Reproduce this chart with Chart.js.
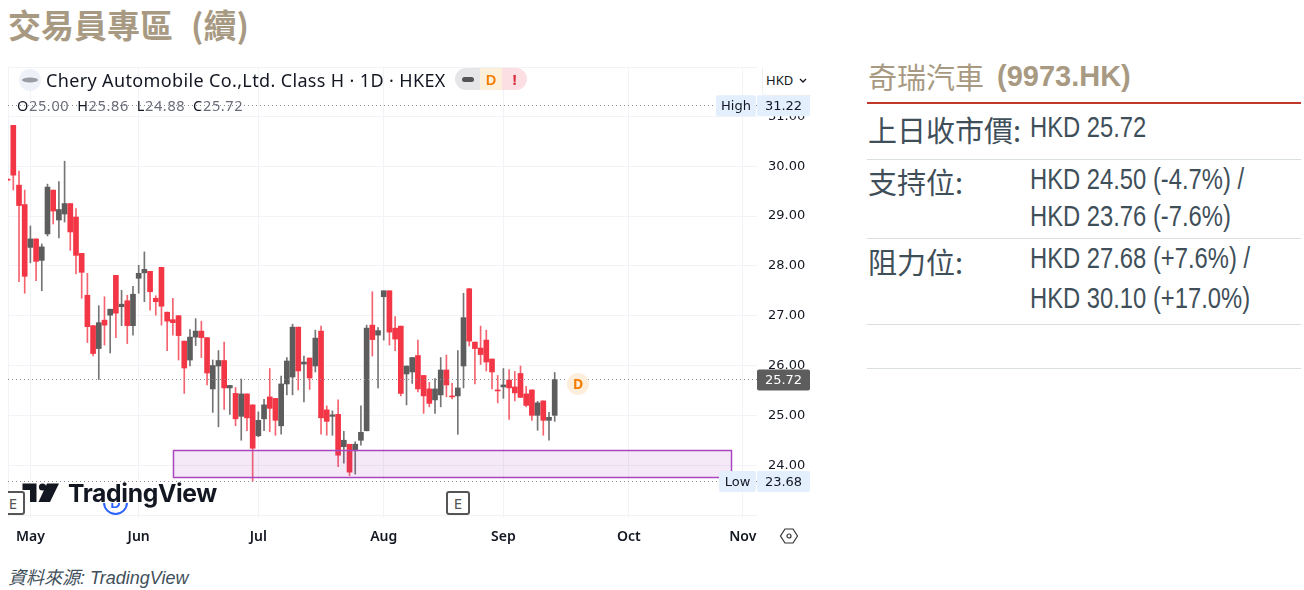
<!DOCTYPE html>
<html>
<head>
<meta charset="utf-8">
<title>奇瑞汽車 (9973.HK)</title>
<script src="https://cdn.jsdelivr.net/npm/chart.js@4"></script>
<style>
	body { margin: 0; background: #fff; width: 1304px; height: 590px; position: relative; overflow: hidden; }
	.abs { position: absolute; white-space: nowrap; }
	.tan { color: #a89a82; }
	.cjk { font-family: "Noto Sans CJK TC", sans-serif; }
	.lab { font-family: "Noto Sans CJK TC", sans-serif; font-size: 29px; color: #3f4f5a; left: 868px; line-height: 36px; }
	.val { font-family: "Liberation Sans", sans-serif; font-size: 29px; color: #3f4f5a; left: 1030px; line-height: 36px; transform: scaleX(0.82); transform-origin: left center; }
	.rule { position: absolute; left: 867px; width: 434px; height: 1px; background: #d9dfe0; }
	.tv { font-family: "Noto Sans", sans-serif; color: #131722; }
	canvas { position: absolute; left: 0; top: 60px; }
</style>
</head>
<body>
<div class="abs tan cjk" style="left:8px;top:1px;font-size:33px;font-weight:700;line-height:46px">交易員專區</div>
<div class="abs tan cjk" style="left:191px;top:1px;font-size:33px;font-weight:700;line-height:46px">(續)</div>

<canvas id="chart" width="812" height="490"></canvas>

<!-- symbol header -->
<svg class="abs" style="left:19px;top:69px" width="22" height="22"><circle cx="11" cy="11" r="11" fill="#eef1f8"/><ellipse cx="11" cy="11" rx="8" ry="2.5" fill="#9a9da3"/></svg>
<div class="abs tv" style="left:46px;top:68px;font-size:18px;line-height:24px;letter-spacing:0.36px">Chery Automobile Co.,Ltd. Class H · 1D · HKEX</div>
<div class="abs" style="left:455px;top:68px;width:25px;height:22px;background:#e6e6e8;border-radius:11px 0 0 11px"></div>
<div class="abs" style="left:462px;top:77px;width:12px;height:5px;background:#555;border-radius:3px"></div>
<div class="abs tv" style="left:480px;top:68px;width:22px;height:22px;background:#fdf0db;color:#f57c00;font-size:15px;font-weight:600;line-height:22px;text-align:center">D</div>
<div class="abs tv" style="left:502px;top:68px;width:25px;height:22px;background:#fbdfe3;color:#d9303f;font-size:15px;font-weight:700;line-height:22px;text-align:center;border-radius:0 11px 11px 0">!</div>
<div class="abs tv" style="left:17px;top:96px;font-size:14.5px;line-height:18px;color:#6a6d78;letter-spacing:0.65px;word-spacing:-0.5px">
	<span style="color:#131722">O</span>25.00&nbsp;
	<span style="color:#131722">H</span>25.86&nbsp;
	<span style="color:#131722">L</span>24.88&nbsp;
	<span style="color:#131722">C</span>25.72
</div>
<div class="abs tv" style="left:762px;top:68px;width:48px;height:27px;background:#fff;border:1px solid #eceef2;border-width:0 0 1px 1px;border-radius:0 0 0 5px;font-size:13px;line-height:25px;text-indent:3px">HKD
	<svg width="8" height="5" style="margin-left:2px;vertical-align:2px"><path d="M1 1 L4 4 L7 1" fill="none" stroke="#131722" stroke-width="1.3"/></svg>
</div>

<!-- earnings / dividend badges and logo -->
<div class="abs" style="left:103px;top:490px;width:21px;height:21px;border:2px solid #2962ff;border-radius:50%;font-family:'Noto Sans',sans-serif;font-size:15px;font-weight:600;line-height:20px;text-align:center;color:#2962ff">D</div>
<div class="abs" style="left:22px;top:482px;width:195px;height:21px;background:#fff"></div>
<div class="abs tv" style="left:1px;top:491px;width:20px;height:20px;border:2px solid #555;border-radius:3px;background:#fff;clip-path:inset(-2px -2px -2px 7px);font-size:15px;line-height:20px;text-align:center;color:#555">E</div>
<svg class="abs" style="left:22px;top:482px" width="40" height="21"><path d="M0.500 1.500 H14.500 V20 H8 V8 H0.500 Z" fill="#131722"/><circle cx="20.500" cy="5" r="3.600" fill="#131722"/><path d="M25 1.500 H37 L28 20 H16.500 Z" fill="#131722"/></svg>
<div class="abs" style="left:68px;top:476px;font-family:Inter,sans-serif;font-weight:700;font-size:24.7px;line-height:34px;color:#131722;letter-spacing:-0.35px">TradingView</div>
<div class="abs tv" style="left:446px;top:491px;width:20px;height:20px;border:2px solid #555;border-radius:3px;font-size:15px;line-height:20px;text-align:center;color:#555;background:#fff">E</div>
<div class="abs tv" style="left:567px;top:373px;width:22px;height:22px;border-radius:50%;background:#fdeedc;color:#f57c00;font-size:14px;font-weight:700;line-height:22px;text-align:center">D</div>
<svg class="abs" style="left:779px;top:527px" width="20" height="18"><path d="M6 2 H14 L18.500 9 L14 16 H6 L1.500 9 Z" fill="none" stroke="#333" stroke-width="1.200"/><circle cx="10" cy="9" r="2" fill="none" stroke="#333" stroke-width="1.200"/></svg>

<div class="abs" style="left:8px;top:566px;font-family:'Liberation Sans','Noto Sans CJK TC',sans-serif;font-style:italic;font-size:18px;line-height:24px;color:#3f4f5a">資料來源: TradingView</div>

<!-- right panel -->
<div class="abs tan cjk" style="left:868px;top:56px;font-size:29px;line-height:40px">奇瑞汽車</div>
<div class="abs tan" style="left:997px;top:56px;font-family:'Liberation Sans',sans-serif;font-weight:700;font-size:29px;line-height:40px">(9973.HK)</div>
<div class="abs" style="left:867px;top:102px;width:434px;height:2px;background:#c0392b"></div>
<div class="abs lab" style="top:111px">上日收市價:</div>
<div class="abs val" style="top:109px">HKD 25.72</div>
<div class="rule" style="top:159px"></div>
<div class="abs lab" style="top:163px">支持位:</div>
<div class="abs val" style="top:161px">HKD 24.50 (-4.7%) /</div>
<div class="abs val" style="top:198px">HKD 23.76 (-7.6%)</div>
<div class="rule" style="top:238px"></div>
<div class="abs lab" style="top:243px">阻力位:</div>
<div class="abs val" style="top:240px">HKD 27.68 (+7.6%) /</div>
<div class="abs val" style="top:280px">HKD 30.10 (+17.0%)</div>
<div class="rule" style="top:324px"></div>
<div class="rule" style="top:368px"></div>

<script>
// candles, one entry per trading day
const opens = [29.73,
	30.82, 29.62, 29.23, 28.37, 28.54, 28.11, 28.64, 29.52, 28.92, 29.04,
	29.25, 28.98, 28.25, 27.41, 26.80, 26.34, 26.91, 27.01, 27.81, 27.18,
	27.30, 26.80, 27.75, 27.86, 27.89, 27.35, 27.97, 27.07, 26.92, 27.00,
	26.49, 26.11, 26.57, 26.69, 26.56, 25.53, 25.99, 26.10, 25.55, 25.44,
	24.98, 25.43, 25.21, 24.59, 24.93, 25.37, 25.34, 24.79, 25.63, 25.77,
	26.77, 26.03, 26.15, 25.99, 26.69, 25.11, 24.98, 25.02, 24.37, 24.42,
	24.29, 24.50, 24.69, 26.81, 26.61, 27.38, 27.50, 26.75, 26.79, 25.83,
	25.87, 26.20, 25.80, 25.53, 25.31, 25.41, 25.91, 25.39, 25.39, 25.99,
	27.54, 26.47, 26.35, 26.51, 26.13, 25.51, 25.57, 25.71, 25.57, 25.84,
	25.43, 25.51, 25.00, 25.29, 24.90, 25.00];
const highs = [29.75,
	30.82, 29.90, 29.52, 28.80, 28.54, 28.44, 29.64, 29.52, 29.69, 30.10,
	29.25, 29.15, 28.25, 27.85, 26.80, 27.20, 27.38, 27.13, 27.81, 27.51,
	27.41, 27.59, 28.01, 28.28, 27.89, 27.40, 27.97, 27.07, 27.35, 27.00,
	26.49, 26.72, 26.94, 26.89, 26.56, 26.11, 26.30, 26.47, 25.60, 25.56,
	25.73, 25.43, 25.21, 25.07, 25.32, 25.94, 25.34, 25.79, 26.16, 26.83,
	26.77, 26.19, 26.15, 26.71, 26.79, 25.19, 25.09, 25.31, 24.68, 24.42,
	24.47, 25.19, 26.81, 27.48, 26.76, 27.50, 27.50, 26.98, 26.79, 25.99,
	26.16, 26.51, 25.80, 25.66, 25.74, 26.16, 26.21, 25.64, 26.30, 27.45,
	27.55, 26.47, 26.79, 26.71, 26.13, 25.80, 25.94, 25.92, 25.88, 25.99,
	25.58, 25.51, 25.28, 25.29, 25.06, 25.86];
const lows = [29.70,
	29.52, 27.68, 27.45, 28.06, 27.70, 27.50, 28.60, 28.84, 28.56, 28.88,
	28.31, 27.84, 27.35, 26.46, 26.19, 25.72, 26.41, 26.25, 26.56, 26.80,
	26.44, 26.61, 27.45, 27.28, 27.11, 27.01, 26.81, 26.30, 26.61, 26.11,
	25.44, 25.99, 26.40, 26.16, 25.61, 25.06, 24.77, 25.12, 25.02, 24.79,
	24.50, 24.69, 23.68, 24.57, 24.69, 24.67, 24.60, 24.62, 25.41, 25.41,
	25.51, 25.27, 25.52, 25.87, 24.62, 24.60, 24.60, 23.97, 24.04, 23.79,
	23.82, 24.40, 24.69, 26.19, 25.55, 26.51, 26.41, 26.30, 25.39, 25.21,
	25.64, 25.47, 25.04, 25.17, 25.04, 25.17, 25.37, 25.33, 24.62, 25.55,
	26.39, 25.63, 26.02, 25.89, 25.53, 25.25, 25.34, 24.92, 25.29, 25.36,
	25.17, 24.90, 24.70, 24.60, 24.50, 24.88];
const closes = [29.72,
	29.82, 29.21, 27.79, 28.54, 28.09, 28.38, 29.58, 29.10, 29.13, 29.25,
	28.68, 28.21, 27.87, 26.78, 26.24, 26.86, 26.81, 27.13, 27.05, 27.23,
	26.80, 27.43, 27.85, 27.93, 27.48, 27.28, 27.19, 26.89, 26.86, 26.60,
	25.95, 26.57, 26.69, 26.56, 25.85, 26.00, 26.10, 25.55, 25.60, 24.93,
	25.43, 24.95, 24.34, 24.90, 25.21, 25.14, 24.90, 25.63, 26.09, 26.77,
	25.89, 26.07, 25.75, 26.55, 24.95, 24.88, 25.01, 24.20, 24.50, 23.86,
	24.42, 24.66, 26.75, 26.52, 26.70, 27.50, 26.67, 26.53, 25.44, 25.99,
	26.16, 25.53, 25.39, 25.24, 25.53, 25.91, 25.61, 25.37, 25.55, 26.96,
	26.49, 26.34, 26.22, 26.07, 25.87, 25.49, 25.61, 25.55, 25.45, 25.36,
	25.20, 25.00, 25.25, 24.90, 24.96, 25.72];

// x position of the first candle (it is cut off by the left edge)
const firstIndex = -1;
const xMin = -0.93;
const xMax = 130.5;
const yMin = 22.94;
const yMax = 31.99;
const monthTicks = [3, 22, 43, 65, 86, 108, 128];
const monthLabels = ["May", "Jun", "Jul", "Aug", "Sep", "Oct", "Nov"];
const lowestPriceTick = 24;

const highPrice = 31.22;
const lowPrice = 23.68;
const lastPrice = 25.72;
const zoneTop = 24.3;
const zoneBottom = 23.75;
const zoneStart = 28;
const zoneEnd = 126;

const upColor = "#5d5d5d";
const downColor = "#f23645";
const upWick = "#757575";
const downWick = "#f4636f";
const gridColor = "#f2f3f6";
const axisFont = "'DejaVu Sans', sans-serif";

const bodyColors = closes.map((c, i) => (c >= opens[i] ? upColor : downColor));
const wickColors = closes.map((c, i) => (c >= opens[i] ? upWick : downWick));
const wickData = lows.map((l, i) => ({ x: i + firstIndex, y: [l, highs[i]] }));
const bodyData = opens.map((o, i) => ({ x: i + firstIndex, y: [o, closes[i]] }));

function pill(ctx, x, y, w, h, fill, text, color, font) {
	ctx.fillStyle = fill;
	ctx.beginPath();
	ctx.roundRect(x, y, w, h, 2);
	ctx.fill();
	ctx.fillStyle = color;
	ctx.font = font;
	ctx.textAlign = "center";
	ctx.textBaseline = "middle";
	ctx.fillText(text, x + w / 2, y + h / 2 + 1);
}

const overlayPlugin = {
	id: "overlay",
	beforeDatasetsDraw(chart) {
		const { ctx, chartArea: a } = chart;
		ctx.save();
		// frame on top and left
		ctx.strokeStyle = gridColor;
		ctx.lineWidth = 1;
		ctx.beginPath();
		ctx.moveTo(a.left + 0.5, a.bottom);
		ctx.lineTo(a.left + 0.5, a.top + 0.5);
		ctx.lineTo(a.right, a.top + 0.5);
		ctx.stroke();
		ctx.restore();
	},
	afterDatasetsDraw(chart) {
		const { ctx, chartArea: a, scales } = chart;
		const x = scales.x;
		const y = scales.y;
		ctx.save();
		// support zone
		const zx = x.getPixelForValue(zoneStart);
		const zw = x.getPixelForValue(zoneEnd) - zx;
		const zy = y.getPixelForValue(zoneTop);
		const zh = y.getPixelForValue(zoneBottom) - zy;
		ctx.fillStyle = "rgba(156,39,176,0.1)";
		ctx.fillRect(zx, zy, zw, zh);
		ctx.strokeStyle = "#a845c0";
		ctx.lineWidth = 1.5;
		ctx.strokeRect(Math.round(zx) + 0.5, Math.round(zy) + 0.5, Math.round(zw), Math.round(zh));
		// high, low and last price lines
		ctx.setLineDash([1, 3]);
		ctx.lineWidth = 1;
		ctx.strokeStyle = "#8a8d96";
		[highPrice, lowPrice, lastPrice].forEach((p) => {
			const py = Math.round(y.getPixelForValue(p)) + 0.5;
			ctx.beginPath();
			ctx.moveTo(a.left, py);
			ctx.lineTo(a.right, py);
			ctx.stroke();
		});
		ctx.setLineDash([]);
		ctx.restore();
	},
	afterDraw(chart) {
		const { ctx, chartArea: a, scales } = chart;
		const y = scales.y;
		const font = "13px " + axisFont;
		const hy = y.getPixelForValue(highPrice);
		const ly = y.getPixelForValue(lowPrice);
		const cy = y.getPixelForValue(lastPrice);
		ctx.save();
		pill(ctx, a.right - 41, hy - 10, 40, 21, "#e3effd", "High", "#131722", font);
		pill(ctx, a.right, hy - 10, 53, 21, "#e3effd", highPrice.toFixed(2), "#131722", font);
		pill(ctx, a.right - 38, ly - 10, 37, 21, "#e3effd", "Low", "#131722", font);
		pill(ctx, a.right, ly - 10, 53, 21, "#e3effd", lowPrice.toFixed(2), "#131722", font);
		pill(ctx, a.right, cy - 10, 53, 21, "#5d5d5d", lastPrice.toFixed(2), "#ffffff", font);
		ctx.restore();
	},
};

new Chart(document.getElementById("chart"), {
	type: "bar",
	plugins: [overlayPlugin],
	data: {
		datasets: [
			{
				label: "wick",
				data: wickData,
				backgroundColor: wickColors,
				barThickness: 1,
				grouped: false,
				order: 2,
			},
			{
				label: "body",
				data: bodyData,
				backgroundColor: bodyColors,
				barThickness: 5,
				minBarLength: 1,
				grouped: false,
				order: 1,
			},
		],
	},
	options: {
		responsive: false,
		animation: false,
		layout: { padding: { left: 8, top: 7, right: 2, bottom: 0 } },
		plugins: { legend: { display: false }, tooltip: { enabled: false } },
		scales: {
			x: {
				type: "linear",
				offset: false,
				min: xMin,
				max: xMax,
				afterBuildTicks: (axis) => {
					axis.ticks = monthTicks.map((v) => ({ value: v }));
				},
				afterFit: (axis) => {
					axis.height = 32;
					axis.paddingLeft = 0;
					axis.paddingRight = 0;
				},
				grid: { color: gridColor, offset: false, drawTicks: false },
				border: { display: false },
				ticks: {
					autoSkip: false,
					maxRotation: 0,
					padding: 11,
					color: "#131722",
					font: { family: "'Noto Sans', sans-serif", size: 14, weight: "600" },
					callback: (v) => monthLabels[monthTicks.indexOf(v)],
				},
			},
			y: {
				position: "right",
				min: yMin,
				max: yMax,
				afterFit: (axis) => {
					axis.width = 53;
					axis.paddingTop = 0;
					axis.paddingBottom = 0;
				},
				grid: { color: gridColor, drawTicks: false },
				border: { display: false },
				ticks: {
					stepSize: 1,
					includeBounds: false,
					padding: 11,
					color: "#131722",
					font: { family: axisFont, size: 13 },
					callback: (v) => (v < lowestPriceTick ? "" : v.toFixed(2)),
				},
			},
		},
	},
});
</script>
</body>
</html>
